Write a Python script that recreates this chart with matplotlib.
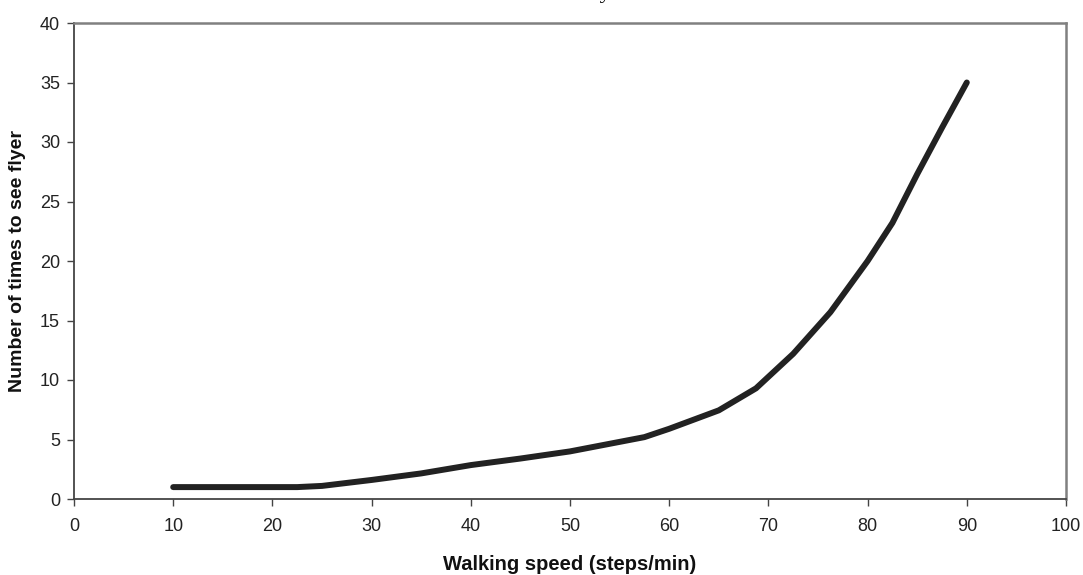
import matplotlib
matplotlib.use("Agg")
import matplotlib.pyplot as plt

# values
speed = [10, 20, 22.5, 25, 30, 35, 40, 45, 50, 57.5, 60, 65, 68.75,
         72.5, 76.25, 80, 82.5, 85, 87.5, 90]
times_seen = [1.0, 1.0, 1.0, 1.1, 1.6, 2.15, 2.85, 3.4, 4.0, 5.2, 5.9, 7.45,
              9.3, 12.2, 15.7, 20.0, 23.2, 27.3, 31.2, 35.0]

x_ticks = list(range(0, 101, 10))
y_ticks = list(range(0, 41, 5))

plt.rcParams['font.family'] = ['Liberation Sans', 'DejaVu Sans']

fig = plt.figure(figsize=(10.83, 5.75), dpi=100)
ax = fig.add_axes([74 / 1083, 76 / 575, 992 / 1083, 476 / 575])

ax.plot(speed, times_seen, color='#222222', lw=4.3, solid_capstyle='round',
        solid_joinstyle='round')

ax.set_xlim(0, 100)
ax.set_ylim(0, 40)
ax.set_xticks(x_ticks)
ax.set_yticks(y_ticks)
ax.tick_params(direction='out', length=5, width=1, color='#444444',
               labelsize=13, labelcolor='#222222', pad=5)
ax.tick_params(axis='x', pad=9)

for side in ['left', 'bottom']:
    ax.spines[side].set_color('#444444')
    ax.spines[side].set_linewidth(1.3)
for side in ['top', 'right']:
    ax.spines[side].set_color('#808080')
    ax.spines[side].set_linewidth(1.8)

ax.set_xlabel('Walking speed (steps/min)', fontsize=14.5, fontweight='bold',
              labelpad=14, color='#111111')
ax.set_ylabel('Number of times to see flyer', fontsize=14, fontweight='bold',
              labelpad=10, color='#111111')

# title is cut off at the top of the original picture
fig.text(570 / 1083, 1.0 + 2 / 575, 'Visibility', ha='center', va='baseline',
         fontsize=16, family='Liberation Serif')

fig.savefig('out.png', dpi=100)
